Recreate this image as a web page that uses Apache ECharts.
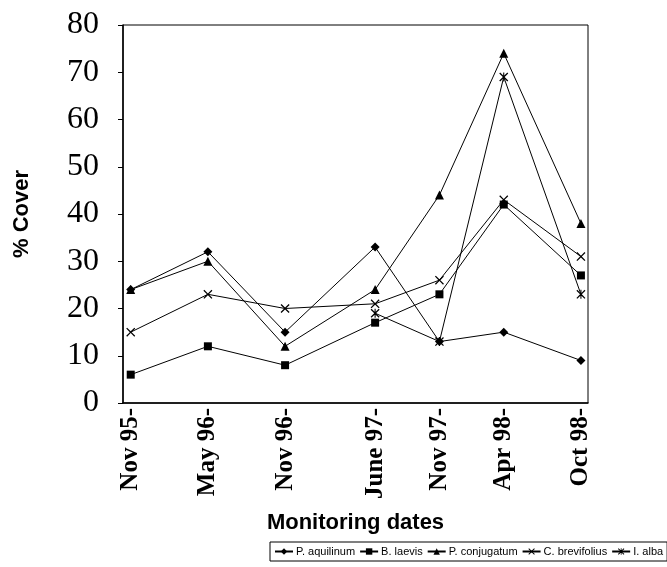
<!DOCTYPE html>
<html>
<head>
<meta charset="utf-8">
<script src="https://cdn.jsdelivr.net/npm/echarts@6.0.0/dist/echarts.min.js"></script>
<style>html,body{margin:0;padding:0;background:#fff;}#c{width:667px;height:567px;}</style>
</head>
<body>
<div id="c"></div>
<script>
// ---- data ----
const dates = ['1995-11', '1996-05', '1996-11', '1997-06', '1997-11', '1998-04', '1998-10'];
const dateLabels = ['Nov 95-', 'May 96-', 'Nov 96-', 'June 97-', 'Nov 97-', 'Apr 98-', 'Oct 98-'];
const seriesNames = ['P. aquilinum', 'B. laevis', 'P. conjugatum', 'C. brevifolius', 'I. alba'];
const pAquilinum = [24, 32, 15, 33, 13, 15, 9];
const bLaevis = [6, 12, 8, 17, 23, 42, 27];
const pConjugatum = [24, 30, 12, 24, 44, 74, 38];
const cBrevifolius = [15, 23, 20, 21, 26, 43, 31];
const iAlba = [null, null, null, 19, 13, 69, 23];
const yTicks = [0, 10, 20, 30, 40, 50, 60, 70, 80];

// months since Jan 1995
function monthIndex(d) { const p = d.split('-'); return (+p[0] - 1995) * 12 + (+p[1] - 1); }
const xs = dates.map(monthIndex);
function pairs(vals) { return vals.map((v, i) => [xs[i], v]).filter(p => p[1] !== null); }

const crossPath = 'path://M0,1 L1,0 L5,4 L9,0 L10,1 L6,5 L10,9 L9,10 L5,6 L1,10 L0,9 L4,5 Z';
const starPath = 'path://M0,1 L1,0 L5,4 L9,0 L10,1 L6,5 L10,9 L9,10 L5,6 L1,10 L0,9 L4,5 Z M4.4,0 L5.6,0 L5.6,10 L4.4,10 Z';

const symbols = ['diamond', 'rect', 'triangle', crossPath, starPath];
const sizes = [9, 8, 9, 9, 9];
const allVals = [pAquilinum, bLaevis, pConjugatum, cBrevifolius, iAlba];

const chart = echarts.init(document.getElementById('c'), null, { renderer: 'canvas' });
const labelMap = {};
xs.forEach((x, i) => labelMap[x] = dateLabels[i]);

chart.setOption({
  backgroundColor: '#fff',
  animation: false,
  grid: { left: 123, right: 79, top: 25, bottom: 164, show: true, borderColor: '#000', borderWidth: 1, backgroundColor: 'transparent' },
  xAxis: {
    type: 'value', min: 9.4, max: 45.55,
    name: 'Monitoring dates', nameLocation: 'middle', nameGap: 109,
    nameTextStyle: { fontFamily: 'Liberation Sans', fontWeight: 'bold', fontSize: 22, color: '#000' },
    axisLine: { show: true, lineStyle: { color: '#000', width: 1.5 } },
    axisTick: { show: false },
    splitLine: { show: false },
    axisLabel: {
      customValues: xs, rotate: 90, margin: 5,
      formatter: v => labelMap[v] || '',
      fontFamily: 'Liberation Serif', fontWeight: 'bold', fontSize: 25, color: '#000'
    }
  },
  yAxis: {
    type: 'value', min: 0, max: 80, interval: 10,
    name: '% Cover', nameLocation: 'middle', nameGap: 90, nameRotate: 90,
    nameTextStyle: { fontFamily: 'Liberation Sans', fontWeight: 'bold', fontSize: 22, color: '#000' },
    axisLine: { show: true, lineStyle: { color: '#000', width: 1.5 } },
    axisTick: { show: true, length: 5, lineStyle: { color: '#000' } },
    splitLine: { show: false },
    axisLabel: { margin: 24, fontFamily: 'Liberation Serif', fontSize: 32, color: '#000',
      formatter: v => yTicks.includes(v) ? String(v) : '' }
  },
  legend: {
    data: seriesNames, left: 270, top: 542, width: 420,
    itemWidth: 18, itemHeight: 8, itemGap: 4,
    padding: [4, 4], borderColor: '#000', borderWidth: 1,
    textStyle: { fontFamily: 'Liberation Sans', fontSize: 11, color: '#000', padding: [0, 0, 0, -2] }
  },
  series: seriesNames.map((n, i) => ({
    name: n, type: 'line', data: pairs(allVals[i]),
    symbol: symbols[i], symbolSize: sizes[i], showAllSymbol: true,
    itemStyle: { color: '#000' },
    lineStyle: { color: '#000', width: 1 },
    emphasis: { disabled: true }
  }))
});
</script>
</body>
</html>
